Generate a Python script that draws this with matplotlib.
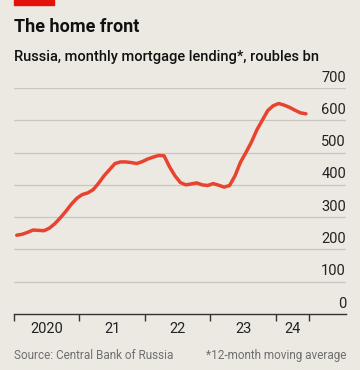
import numpy as np
import matplotlib.pyplot as plt
import matplotlib.transforms as mtransforms
from matplotlib.patches import Rectangle

# Monthly mortgage lending, 12-month moving average, roubles bn (Jan 2020 - Jun 2024)
lending = [244, 247, 253, 260, 259, 258, 266, 280, 298, 318, 340, 358,
           370, 375, 385, 405, 428, 447, 466, 471, 471, 469, 466, 472,
           480, 486, 491, 490, 456, 428, 407, 400, 403, 406, 400, 398,
           404, 399, 393, 398, 428, 470, 500, 532, 570, 600, 630, 645,
           652, 647, 640, 631, 623, 620]
start_year = 2020
y_ticks = [0, 100, 200, 300, 400, 500, 600, 700]
x_labels = ["2020", "21", "22", "23", "24"]
x_label_pos = [2020.5, 2021.5, 2022.5, 2023.5, 2024.25]
x_tick_pos = [2020, 2021, 2022, 2023, 2024, 2024.5]

months = start_year + (np.arange(len(lending)) + 0.5) / 12

bg = '#ece9e2'
red = '#e8432e'
plt.rcParams['font.family'] = ['Roboto', 'DejaVu Sans']

fig = plt.figure(figsize=(3.6, 3.7), dpi=100, facecolor=bg)
ax = fig.add_axes([14 / 360, 1 - 314 / 370, 332 / 360, (314 - 88) / 370])
ax.set_facecolor(bg)

for v in y_ticks[1:]:
    ax.axhline(v, color='#c9c6bf', lw=0.9, zorder=1)
lab_tr = mtransforms.offset_copy(ax.get_yaxis_transform(), fig=fig, y=2.5, units='points')
for v in y_ticks:
    ax.text(1.0, v, str(v), transform=lab_tr, ha='right', va='bottom',
            fontsize=10.5, color='#222222')

ax.plot(months, lending, color=red, lw=2.5, solid_capstyle='round', zorder=3)

ax.set_xlim(2020, 2025.07)
ax.set_ylim(0, 700)
for s in ['top', 'right', 'left']:
    ax.spines[s].set_visible(False)
ax.spines['bottom'].set_color('#333333')
ax.spines['bottom'].set_linewidth(1.0)
ax.set_yticks([])
ax.set_xticks(x_tick_pos)
ax.set_xticklabels([])
ax.tick_params(axis='x', which='major', direction='out', length=5, width=1.0, color='#333333')
ax.set_xticks(x_label_pos, minor=True)
ax.set_xticklabels(x_labels, minor=True, fontsize=10.5, color='#222222')
ax.tick_params(axis='x', which='minor', length=0, pad=6)

fig.patches.append(Rectangle((14 / 360, 1 - 5.3 / 370), 40 / 360, 5.3 / 370,
                             transform=fig.transFigure, color='#e3120b', zorder=5))
fig.text(14 / 360, 1 - 32 / 370, "The home front", fontsize=13, fontweight='bold',
         color='#111111', va='baseline')
fig.text(14 / 360, 1 - 61 / 370, "Russia, monthly mortgage lending*, roubles bn",
         fontsize=10.5, fontweight='medium', color='#111111', va='baseline')
fig.text(14 / 360, 1 - 359 / 370, "Source: Central Bank of Russia", fontsize=8.5,
         color='#6f6f6f', va='baseline')
fig.text(346 / 360, 1 - 359 / 370, "*12-month moving average", fontsize=8.5,
         color='#6f6f6f', va='baseline', ha='right')

fig.savefig('out.png', dpi=100, facecolor=bg)
